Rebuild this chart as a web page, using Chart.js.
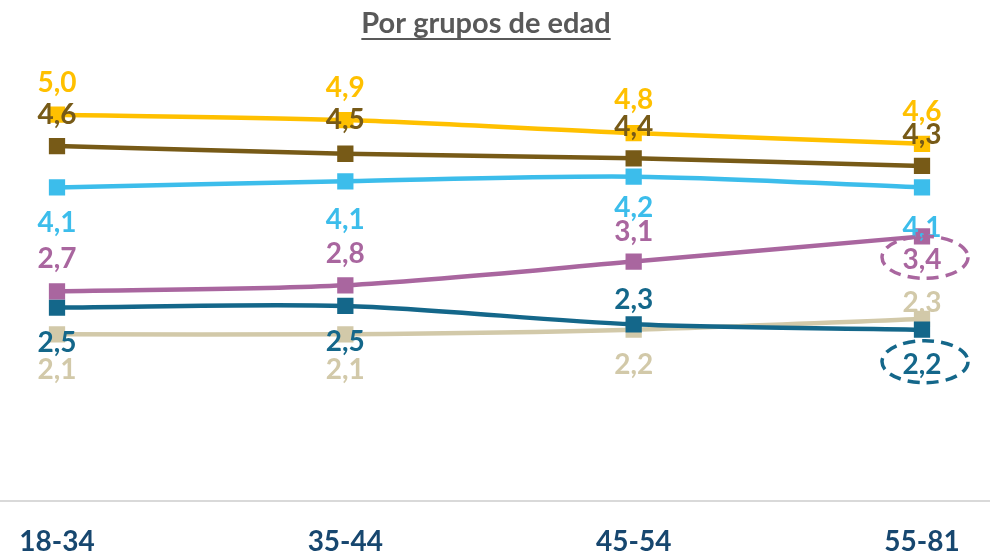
<!DOCTYPE html>
<html>
<head>
<meta charset="utf-8">
<script src="https://cdn.jsdelivr.net/npm/chart.js@4/dist/chart.umd.min.js"></script>
<style>
  html, body { margin: 0; padding: 0; background: #fff; }
</style>
</head>
<body>
<canvas id="chart" width="990" height="557"></canvas>
<script>
const categories = ['18-34', '35-44', '45-54', '55-81'];
// values; labels show them rounded to one decimal
const yellowValues = [5.01, 4.94, 4.77, 4.63];
const brownValues = [4.60, 4.50, 4.44, 4.34];
const lightBlueValues = [4.06, 4.14, 4.20, 4.06];
const purpleValues = [2.70, 2.78, 3.09, 3.42];
const tealValues = [2.49, 2.51, 2.27, 2.20];
const beigeValues = [2.14, 2.14, 2.20, 2.34];

// where each value label sits relative to its point (px, negative = above)
const labelOffsets = [
    [-32, -32, -33, -32],
    [-31, -34, -31, -31],
    [36, 39, 31, 41],
    [-32, -31, -30, 24],
    [35, 36, -24, 35],
    [36, 36, 35, -16]
];
// labels circled with a dashed ellipse: [dataset, index]
const circled = [[3, 3], [4, 3]];

const colors = ['#FFC000', '#775A17', '#3CBDEB', '#A9669F', '#14678A', '#D2C9A9'];
const series = [yellowValues, brownValues, lightBlueValues, purpleValues, tealValues, beigeValues];

const FONT = 'Lato, "Open Sans", sans-serif';

const extras = {
    id: 'extras',
    beforeDatasetsDraw(chart) {
        const ctx = chart.ctx;
        const y = chart.chartArea.bottom + 3;
        ctx.save();
        ctx.strokeStyle = '#D9D9D9';
        ctx.lineWidth = 2;
        ctx.beginPath();
        ctx.moveTo(0, y);
        ctx.lineTo(chart.width, y);
        ctx.stroke();

        // category labels under the axis line
        const xScale = chart.scales.x;
        ctx.font = 'bold 28px ' + FONT;
        ctx.fillStyle = '#17476F';
        ctx.textAlign = 'center';
        ctx.textBaseline = 'middle';
        categories.forEach((c, i) => {
            ctx.fillText(c, xScale.getPixelForValue(i), 542);
        });
        ctx.restore();
    },
    afterDatasetsDraw(chart) {
        const ctx = chart.ctx;
        ctx.save();
        ctx.font = 'bold 28px ' + FONT;
        ctx.textAlign = 'center';
        ctx.textBaseline = 'middle';
        chart.data.datasets.forEach((ds, i) => {
            const meta = chart.getDatasetMeta(i);
            meta.data.forEach((pt, j) => {
                const text = ds.data[j].toFixed(1).replace('.', ',');
                const y = pt.y + labelOffsets[i][j];
                ctx.fillStyle = colors[i];
                ctx.fillText(text, pt.x, y);
            });
        });
        circled.forEach(([i, j]) => {
            const pt = chart.getDatasetMeta(i).data[j];
            const y = pt.y + labelOffsets[i][j] - 3;
            ctx.strokeStyle = colors[i];
            ctx.lineWidth = 3.5;
            ctx.setLineDash([12, 7]);
            ctx.beginPath();
            ctx.ellipse(pt.x + 3, y, 43, 21, 0, 0, Math.PI * 2);
            ctx.stroke();
        });
        ctx.restore();

        // title
        ctx.save();
        ctx.font = 'bold 29px ' + FONT;
        ctx.fillStyle = '#595959';
        ctx.textAlign = 'center';
        ctx.textBaseline = 'alphabetic';
        const title = 'Por grupos de edad';
        ctx.fillText(title, 486, 33);
        const w = ctx.measureText(title).width;
        ctx.fillRect(486 - w / 2, 38, w, 2);
        ctx.restore();
    }
};

new Chart(document.getElementById('chart').getContext('2d'), {
    type: 'line',
    data: {
        labels: categories,
        datasets: series.map((values, i) => ({
            label: 'Serie ' + (i + 1),
            data: values,
            borderColor: colors[i],
            backgroundColor: colors[i],
            borderWidth: 4.5,
            tension: 0.3,
            pointStyle: 'rect',
            pointRadius: 11.5,
            pointHoverRadius: 11.5,
            pointBorderWidth: 0
        }))
    },
    options: {
        responsive: false,
        animation: false,
        layout: { padding: { top: 39, left: 57, right: 68, bottom: 59 } },
        plugins: {
            legend: { display: false },
            tooltip: { enabled: false }
        },
        scales: {
            y: { display: false, min: 0, max: 6 },
            x: { display: false }
        }
    },
    plugins: [extras]
});
</script>
</body>
</html>
